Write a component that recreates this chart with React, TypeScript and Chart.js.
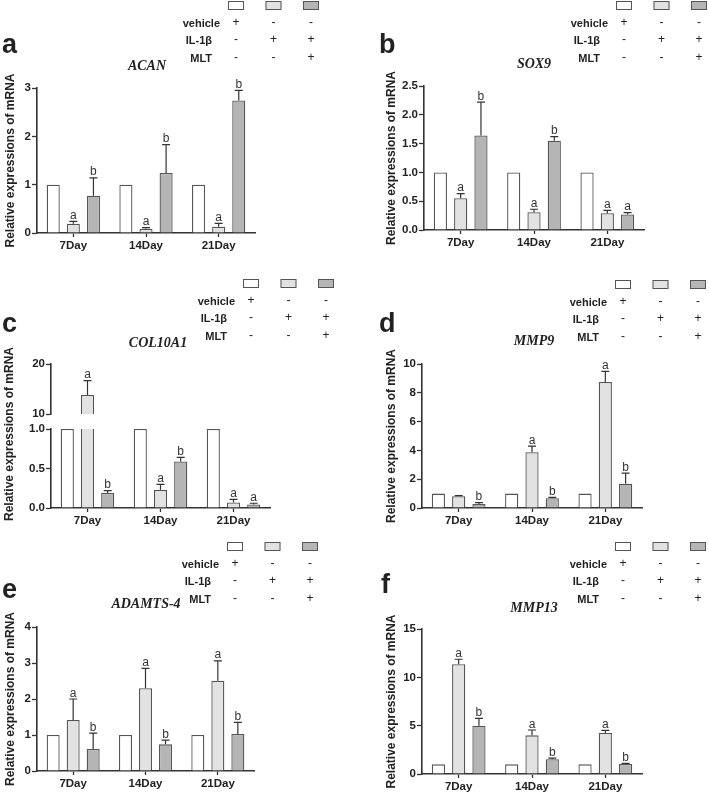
import React, { useEffect, useRef } from "react";
import { Chart, registerables } from "chart.js";

Chart.register(...registerables);

// ---------- data ----------
const DAYS = ["7Day", "14Day", "21Day"];
const GROUP_NAMES = ["vehicle", "IL-1β", "MLT"];
const TREATMENT_ROWS = ["vehicle", "IL-1β", "MLT"];
const TREATMENT_MARKS = [
  ["+", "-", "-"],
  ["-", "+", "+"],
  ["-", "-", "+"],
];
const Y_TITLE = "Relative expressions of mRNA";

// a  ACAN
const acanVehicle = [1, 1, 1];
const acanIL1b = [0.19, 0.09, 0.13];
const acanIL1bErr = [0.05, 0.02, 0.07];
const acanIL1bSig = ["a", "a", "a"];
const acanMLT = [0.77, 1.24, 2.74];
const acanMLTErr = [0.37, 0.59, 0.21];
const acanMLTSig = ["b", "b", "b"];

// b  SOX9
const sox9Vehicle = [1, 1, 1];
const sox9IL1b = [0.55, 0.31, 0.29];
const sox9IL1bErr = [0.08, 0.05, 0.05];
const sox9IL1bSig = ["a", "a", "a"];
const sox9MLT = [1.64, 1.55, 0.27];
const sox9MLTErr = [0.58, 0.07, 0.03];
const sox9MLTSig = ["b", "b", "a"];

// c  COL10A1
const colVehicle = [1, 1, 1];
const colIL1b = [13.8, 0.23, 0.07];
const colIL1bErr = [2.9, 0.07, 0.04];
const colIL1bSig = ["a", "a", "a"];
const colMLT = [0.19, 0.59, 0.045];
const colMLTErr = [0.03, 0.05, 0.015];
const colMLTSig = ["b", "b", "a"];

// d  MMP9
const mmp9Vehicle = [1, 1, 1];
const mmp9IL1b = [0.82, 3.88, 8.75];
const mmp9IL1bErr = [0.04, 0.42, 0.74];
const mmp9IL1bSig = ["", "a", "a"];
const mmp9MLT = [0.27, 0.68, 1.68];
const mmp9MLTErr = [0.1, 0.06, 0.74];
const mmp9MLTSig = ["b", "b", "b"];

// e  ADAMTS-4
const adamVehicle = [1, 1, 1];
const adamIL1b = [1.42, 2.3, 2.51];
const adamIL1bErr = [0.58, 0.55, 0.55];
const adamIL1bSig = ["a", "a", "a"];
const adamMLT = [0.61, 0.74, 1.03];
const adamMLTErr = [0.44, 0.12, 0.32];
const adamMLTSig = ["b", "b", "b"];

// f  MMP13
const mmp13Vehicle = [1, 1, 1];
const mmp13IL1b = [11.35, 4.0, 4.24];
const mmp13IL1bErr = [0.52, 0.55, 0.28];
const mmp13IL1bSig = ["a", "a", "a"];
const mmp13MLT = [5.0, 1.52, 1.03];
const mmp13MLTErr = [0.76, 0.13, 0.07];
const mmp13MLTSig = ["b", "b", "b"];

// ---------- style ----------
const FONT = "'Liberation Sans', Arial, sans-serif";
const SERIF = "'Liberation Serif', 'Times New Roman', serif";
const FILLS = ["#ffffff", "#e2e2e2", "#b5b5b5"];
const EDGE = "#555555";
const AXIS = "#333333";
const INK = "#222222";

type Series = { values: number[]; errors?: number[]; sigs?: string[] };
type PanelSpec = {
  key: string;
  letter?: string;
  gene?: string;
  left: number;
  top: number;
  width: number;
  height: number;
  area: { l: number; r: number; t: number; b: number };
  yMin: number;
  yMax: number;
  step: number;
  decimals: number;
  series: Series[];
  letterPos?: [number, number];
  genePos?: [number, number];
  legendPos?: [number, number];
  yTitlePad?: number;
  customYTitle?: [number, number];
  showX: boolean;
  clip?: boolean;
};

const errorBarPlugin = {
  id: "errorBars",
  afterDatasetsDraw(chart: any) {
    const ctx = chart.ctx;
    const yScale = chart.scales.y;
    ctx.save();
    chart.data.datasets.forEach((ds: any, i: number) => {
      const meta = chart.getDatasetMeta(i);
      meta.data.forEach((bar: any, j: number) => {
        const v = ds.data[j];
        if (v == null) return;
        if (v > yScale.max || v < yScale.min) return;
        const err = ds.errors ? ds.errors[j] : 0;
        const sig = ds.sigs ? ds.sigs[j] : "";
        const { x, y } = bar.getProps(["x", "y"], true);
        const yTop = yScale.getPixelForValue(v + err);
        if (err > 0) {
          ctx.strokeStyle = AXIS;
          ctx.lineWidth = 1.2;
          ctx.beginPath();
          ctx.moveTo(x, y);
          ctx.lineTo(x, yTop);
          ctx.moveTo(x - 4, yTop);
          ctx.lineTo(x + 4, yTop);
          ctx.stroke();
        }
        if (sig) {
          ctx.fillStyle = "#333";
          ctx.font = `12px ${FONT}`;
          ctx.textAlign = "center";
          ctx.textBaseline = "alphabetic";
          ctx.fillText(sig, x, (err > 0 ? yTop : y) - 2.5);
        }
      });
    });
    ctx.restore();
  },
};

function makeDecorPlugin(s: PanelSpec) {
  return {
    id: "decor_" + s.key,
    afterDraw(chart: any) {
      const ctx = chart.ctx;
      ctx.save();
      ctx.fillStyle = INK;
      if (s.letter && s.letterPos) {
        ctx.font = `bold 27px ${FONT}`;
        ctx.textAlign = "left";
        ctx.textBaseline = "alphabetic";
        ctx.fillText(s.letter, s.letterPos[0], s.letterPos[1]);
      }
      if (s.gene && s.genePos) {
        ctx.font = `italic bold 14px ${SERIF}`;
        ctx.textAlign = "center";
        ctx.textBaseline = "alphabetic";
        ctx.fillText(s.gene, s.genePos[0], s.genePos[1]);
      }
      if (s.legendPos) {
        const [lx, ly] = s.legendPos;
        const gap = 37.5;
        for (let k = 0; k < 3; k++) {
          const cx = lx + k * gap;
          ctx.fillStyle = FILLS[k];
          ctx.fillRect(cx - 8, ly - 4, 16, 8);
          ctx.strokeStyle = EDGE;
          ctx.lineWidth = 1;
          ctx.strokeRect(cx - 8 + 0.5, ly - 4 + 0.5, 15, 8);
        }
        const rowY = [ly + 19, ly + 36, ly + 54];
        const labelRight = [lx - 16, lx - 24, lx - 24];
        for (let r = 0; r < 3; r++) {
          ctx.fillStyle = INK;
          ctx.font = `bold 11px ${FONT}`;
          ctx.textAlign = "right";
          ctx.textBaseline = "middle";
          ctx.fillText(TREATMENT_ROWS[r], labelRight[r], rowY[r]);
          ctx.font = `12px ${FONT}`;
          ctx.textAlign = "center";
          for (let k = 0; k < 3; k++) {
            ctx.fillText(TREATMENT_MARKS[r][k], lx + k * gap, rowY[r] - 1);
          }
        }
      }
      if (s.customYTitle) {
        ctx.translate(s.customYTitle[0], s.customYTitle[1]);
        ctx.rotate(-Math.PI / 2);
        ctx.fillStyle = INK;
        ctx.font = `bold 12px ${FONT}`;
        ctx.textAlign = "center";
        ctx.textBaseline = "middle";
        ctx.fillText(Y_TITLE, 0, 0);
      }
      ctx.restore();
    },
  };
}

function buildConfig(s: PanelSpec): any {
  const xAxisH = s.showX ? 22 : 0;
  return {
    type: "bar",
    data: {
      labels: DAYS,
      datasets: s.series.map((ser, i) => ({
        label: GROUP_NAMES[i],
        data: ser.values,
        errors: ser.errors,
        sigs: ser.sigs,
        backgroundColor: FILLS[i],
        borderColor: EDGE,
        borderWidth: 1.3,
        categoryPercentage: 0.83,
        barPercentage: 0.65,
        ...(s.clip ? { clip: 0 } : {}),
      })),
    },
    options: {
      responsive: false,
      maintainAspectRatio: false,
      animation: false,
      events: [],
      layout: {
        padding: {
          left: 0,
          top: s.area.t,
          right: s.width - s.area.r,
          bottom: s.height - s.area.b - xAxisH,
        },
      },
      plugins: {
        legend: { display: false },
        tooltip: { enabled: false },
        title: { display: false },
      },
      scales: {
        x: {
          type: "category",
          display: s.showX,
          offset: true,
          grid: {
            offset: false,
            drawOnChartArea: false,
            drawTicks: true,
            tickLength: 4,
            tickColor: AXIS,
            tickWidth: 1.3,
          },
          border: { display: true, color: AXIS, width: 1.6 },
          ticks: {
            color: INK,
            font: { family: FONT, size: 11.5, weight: "bold" },
            padding: 2,
            maxRotation: 0,
            autoSkip: false,
          },
          afterFit: (sc: any) => {
            sc.height = xAxisH;
          },
        },
        y: {
          type: "linear",
          min: s.yMin,
          max: s.yMax,
          ticks: {
            stepSize: s.step,
            color: INK,
            font: { family: FONT, size: 11.5, weight: "bold" },
            padding: 1,
            callback: (v: any) => Number(v).toFixed(s.decimals),
          },
          grid: {
            drawOnChartArea: false,
            drawTicks: true,
            tickLength: 5,
            tickColor: AXIS,
            tickWidth: 1.3,
          },
          border: { display: true, color: AXIS, width: 1.6 },
          title: {
            display: s.yTitlePad !== undefined,
            text: Y_TITLE,
            color: INK,
            font: { family: FONT, size: 12, weight: "bold" },
            padding: { top: s.yTitlePad ?? 0, bottom: 0 },
          },
          afterFit: (sc: any) => {
            sc.width = s.area.l;
          },
        },
      },
    },
    plugins: [errorBarPlugin, makeDecorPlugin(s)],
  };
}

const PANELS: PanelSpec[] = [
  {
    key: "a", letter: "a", gene: "ACAN",
    left: 0, top: 0, width: 354, height: 258,
    area: { l: 37, r: 255, t: 88, b: 233 },
    yMin: 0, yMax: 3, step: 1, decimals: 0,
    series: [
      { values: acanVehicle },
      { values: acanIL1b, errors: acanIL1bErr, sigs: acanIL1bSig },
      { values: acanMLT, errors: acanMLTErr, sigs: acanMLTSig },
    ],
    letterPos: [2, 53], genePos: [147, 70], legendPos: [236, 5],
    yTitlePad: 3, showX: true,
  },
  {
    key: "b", letter: "b", gene: "SOX9",
    left: 354, top: 0, width: 355, height: 258,
    area: { l: 70, r: 290, t: 86, b: 230 },
    yMin: 0, yMax: 2.5, step: 0.5, decimals: 1,
    series: [
      { values: sox9Vehicle },
      { values: sox9IL1b, errors: sox9IL1bErr, sigs: sox9IL1bSig },
      { values: sox9MLT, errors: sox9MLTErr, sigs: sox9MLTSig },
    ],
    letterPos: [25, 53], genePos: [180, 68], legendPos: [270, 5],
    yTitlePad: 30, showX: true,
  },
  {
    key: "c", letter: "c", gene: "COL10A1",
    left: 0, top: 250, width: 354, height: 282,
    area: { l: 51, r: 270, t: 179, b: 258 },
    yMin: 0, yMax: 1, step: 0.5, decimals: 1,
    series: [
      { values: colVehicle },
      { values: colIL1b, errors: colIL1bErr, sigs: colIL1bSig },
      { values: colMLT, errors: colMLTErr, sigs: colMLTSig },
    ],
    letterPos: [2, 82], genePos: [158, 97], legendPos: [251, 33],
    customYTitle: [10, 184], showX: true, clip: true,
  },
  {
    key: "c-top",
    left: 0, top: 350, width: 354, height: 72,
    area: { l: 51, r: 270, t: 14, b: 67 },
    yMin: 10, yMax: 20, step: 10, decimals: 0,
    series: [
      { values: colVehicle },
      { values: colIL1b, errors: colIL1bErr, sigs: colIL1bSig },
      { values: colMLT, errors: colMLTErr, sigs: colMLTSig },
    ],
    showX: false, clip: true,
  },
  {
    key: "d", letter: "d", gene: "MMP9",
    left: 354, top: 250, width: 355, height: 282,
    area: { l: 68, r: 288, t: 114, b: 258 },
    yMin: 0, yMax: 10, step: 2, decimals: 0,
    series: [
      { values: mmp9Vehicle },
      { values: mmp9IL1b, errors: mmp9IL1bErr, sigs: mmp9IL1bSig },
      { values: mmp9MLT, errors: mmp9MLTErr, sigs: mmp9MLTSig },
    ],
    letterPos: [25, 82], genePos: [180, 95], legendPos: [269, 34],
    yTitlePad: 30, showX: true,
  },
  {
    key: "e", letter: "e", gene: "ADAMTS-4",
    left: 0, top: 520, width: 354, height: 276,
    area: { l: 37, r: 254, t: 107, b: 251 },
    yMin: 0, yMax: 4, step: 1, decimals: 0,
    series: [
      { values: adamVehicle },
      { values: adamIL1b, errors: adamIL1bErr, sigs: adamIL1bSig },
      { values: adamMLT, errors: adamMLTErr, sigs: adamMLTSig },
    ],
    letterPos: [2, 78], genePos: [146, 88], legendPos: [235, 26],
    yTitlePad: 3, showX: true,
  },
  {
    key: "f", letter: "f", gene: "MMP13",
    left: 354, top: 520, width: 355, height: 278,
    area: { l: 68, r: 288, t: 109, b: 254 },
    yMin: 0, yMax: 15, step: 5, decimals: 0,
    series: [
      { values: mmp13Vehicle },
      { values: mmp13IL1b, errors: mmp13IL1bErr, sigs: mmp13IL1bSig },
      { values: mmp13MLT, errors: mmp13MLTErr, sigs: mmp13MLTSig },
    ],
    letterPos: [27, 73], genePos: [180, 92], legendPos: [269, 26],
    yTitlePad: 30, showX: true,
  },
];

function PanelChart({ spec }: { spec: PanelSpec }) {
  const ref = useRef<HTMLCanvasElement>(null);
  useEffect(() => {
    if (!ref.current) return;
    const chart = new Chart(ref.current, buildConfig(spec));
    return () => chart.destroy();
  }, [spec]);
  return (
    <canvas
      ref={ref}
      width={spec.width}
      height={spec.height}
      style={{
        position: "absolute",
        left: spec.left,
        top: spec.top,
        width: spec.width,
        height: spec.height,
        display: "block",
      }}
    />
  );
}

export default function App() {
  return (
    <div
      style={{
        position: "fixed",
        left: 0,
        top: 0,
        width: 709,
        height: 792,
        background: "#ffffff",
        overflow: "hidden",
      }}
    >
      {PANELS.map((p) => (
        <PanelChart key={p.key} spec={p} />
      ))}
    </div>
  );
}
